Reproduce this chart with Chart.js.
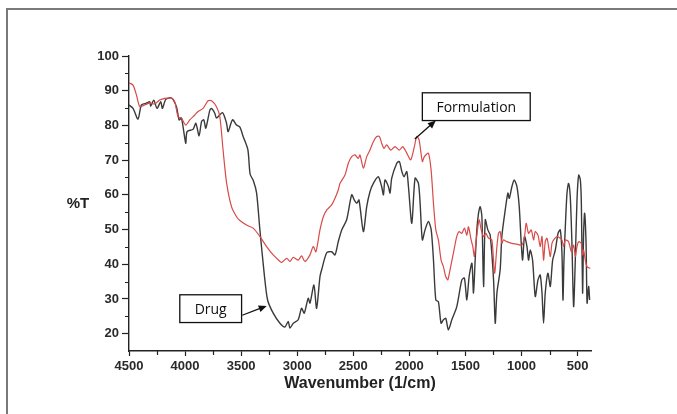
<!DOCTYPE html>
<html>
<head>
<meta charset="utf-8">
<script src="https://cdn.jsdelivr.net/npm/chart.js@4.4.1/dist/chart.umd.min.js"></script>
<style>
  html, body { margin: 0; padding: 0; background: #fff; }
  #wrap { position: relative; width: 677px; height: 414px; }
</style>
</head>
<body>
<div id="wrap"><canvas id="ftir" width="677" height="414"></canvas></div>
<script>
// spectra (wavenumber in 1/cm, transmittance in %)
const drugWn = [4500, 4464, 4420, 4389, 4345, 4315, 4306, 4279, 4250, 4217, 4202, 4172, 4121, 4077, 4053, 4032, 3994, 3982, 3928, 3904,
  3875, 3853, 3833, 3815, 3779, 3764, 3735, 3720, 3666, 3630, 3616, 3577, 3541, 3511, 3482, 3440, 3420, 3390, 3362, 3333,
  3295, 3264, 3214, 3154, 3110, 3080, 3065, 3035, 2991, 2961, 2937, 2902, 2886, 2851, 2827, 2797, 2782, 2737, 2693, 2663,
  2634, 2603, 2559, 2514, 2491, 2469, 2449, 2410, 2380, 2351, 2321, 2277, 2247, 2231, 2217, 2187, 2172, 2157, 2112, 2089,
  2067, 2047, 2023, 2008, 1978, 1949, 1919, 1904, 1884, 1860, 1830, 1805, 1785, 1764, 1741, 1717, 1696, 1675, 1652, 1621,
  1577, 1532, 1509, 1487, 1467, 1442, 1428, 1413, 1398, 1383, 1368, 1353, 1338, 1323, 1300, 1279, 1249, 1234, 1219, 1190,
  1175, 1145, 1121, 1109, 1085, 1065, 1041, 1020, 1002, 990, 973, 951, 937, 922, 901, 877, 853, 833, 817, 803,
  788, 764, 743, 722, 698, 674, 654, 639, 630, 621, 609, 594, 580, 565, 550, 535, 520, 505, 490, 475,
  466, 455, 446, 437, 424, 415, 401, 392];
const drugT = [85.9, 84.9, 81.8, 85.9, 86.4, 86.8, 85.6, 87.3, 84.9, 86.8, 84.9, 87.5, 87.9, 85.4, 81.6, 82.1, 74.9, 78.2, 78.9, 80.6,
  77.0, 81.1, 81.6, 79.2, 84.4, 84.9, 83.5, 82.1, 83.7, 80.6, 78.2, 81.6, 80.1, 79.5, 76.8, 73.0, 66.0, 64.0, 60.5, 50.0,
  37.5, 29.7, 25.9, 23.0, 21.9, 23.5, 21.6, 23.0, 24.0, 27.3, 25.9, 30.2, 28.8, 34.0, 27.3, 36.4, 38.4, 43.3, 43.6, 42.7,
  46.5, 49.9, 52.8, 60.0, 58.5, 57.6, 58.5, 49.4, 56.6, 60.9, 63.3, 65.2, 62.4, 60.0, 64.3, 62.4, 60.5, 64.8, 69.1, 69.6,
  66.7, 65.2, 66.7, 62.4, 51.8, 64.8, 63.3, 57.6, 47.0, 49.9, 52.3, 49.9, 41.3, 29.7, 29.2, 23.0, 24.0, 24.4, 21.1, 24.0,
  27.8, 35.5, 36.0, 29.7, 36.4, 40.3, 31.7, 41.2, 49.9, 54.7, 56.6, 53.7, 33.6, 52.8, 49.9, 48.4, 35.5, 23.0, 31.7, 38.4,
  48.0, 55.6, 60.5, 59.0, 62.4, 64.3, 62.4, 56.6, 46.0, 41.2, 48.0, 45.1, 41.2, 44.1, 41.2, 30.7, 35.5, 36.9, 31.7, 23.0,
  31.7, 37.4, 33.6, 41.2, 44.1, 48.9, 49.9, 43.2, 29.7, 41.2, 50.8, 60.5, 63.3, 59.5, 46.0, 27.8, 41.2, 58.5, 65.7, 64.3,
  57.6, 31.7, 48.9, 54.7, 46.0, 28.8, 33.6, 29.7];

const formWn = [4500, 4464, 4434, 4404, 4360, 4315, 4270, 4226, 4181, 4121, 4092, 4062, 4032, 3994, 3958, 3913, 3884, 3839, 3795, 3764,
  3720, 3690, 3661, 3630, 3586, 3541, 3511, 3452, 3393, 3333, 3273, 3214, 3154, 3140, 3094, 3065, 3035, 2991, 2961, 2931,
  2886, 2857, 2833, 2797, 2767, 2737, 2693, 2663, 2634, 2618, 2574, 2544, 2514, 2485, 2455, 2440, 2410, 2380, 2351, 2321,
  2291, 2267, 2247, 2226, 2202, 2166, 2128, 2089, 2059, 2023, 1987, 1955, 1934, 1913, 1884, 1866, 1830, 1806, 1785, 1764,
  1741, 1717, 1696, 1675, 1657, 1637, 1607, 1577, 1556, 1532, 1509, 1487, 1473, 1449, 1434, 1420, 1407, 1389, 1377, 1359,
  1338, 1317, 1294, 1264, 1240, 1219, 1205, 1190, 1175, 1161, 1131, 1086, 1041, 996, 973, 958, 937, 913, 892, 877,
  853, 833, 817, 803, 788, 773, 758, 743, 728, 713, 683, 654, 639, 624, 609, 580, 555, 535, 520, 505,
  490, 466, 455, 446, 431, 416, 386];
const formT = [92.3, 91.6, 88.8, 85.4, 85.9, 86.4, 86.2, 87.3, 87.8, 87.9, 86.8, 82.5, 82.1, 80.1, 81.6, 83.0, 84.0, 84.9, 87.1, 87.1,
  85.4, 82.5, 72.9, 63.5, 56.6, 53.7, 52.6, 51.3, 50.4, 48.0, 45.1, 42.7, 40.8, 40.5, 41.7, 40.8, 42.0, 41.2, 42.4, 40.8,
  42.7, 45.1, 43.6, 49.9, 53.7, 55.6, 57.1, 59.0, 61.4, 63.3, 65.7, 69.1, 71.0, 71.5, 70.5, 71.5, 67.7, 71.0, 72.9, 75.3,
  76.8, 76.8, 74.9, 73.4, 74.4, 72.9, 73.9, 72.9, 73.9, 72.0, 70.1, 73.9, 76.8, 75.8, 69.6, 71.0, 72.0, 67.2, 57.6, 49.9,
  47.0, 41.2, 39.3, 36.4, 35.5, 38.4, 43.2, 48.0, 49.4, 48.9, 50.4, 48.4, 50.8, 47.0, 45.1, 42.2, 46.0, 50.8, 52.8, 49.9,
  48.0, 48.9, 47.5, 47.0, 37.4, 45.1, 48.9, 49.4, 46.0, 47.0, 46.5, 46.0, 45.8, 45.5, 48.0, 51.8, 48.9, 49.9, 47.0, 49.4,
  48.4, 45.1, 48.0, 41.2, 46.5, 47.5, 45.1, 42.2, 46.0, 47.0, 48.0, 47.5, 47.0, 45.1, 47.0, 46.5, 43.6, 45.5, 42.2, 45.1,
  46.5, 46.0, 42.7, 44.1, 41.2, 39.3, 38.8];

const xTicks = [4500, 4000, 3500, 3000, 2500, 2000, 1500, 1000, 500];
const xMinorTicks = [4250, 3750, 3250, 2750, 2250, 1750, 1250, 750];
const yTicks = [20, 30, 40, 50, 60, 70, 80, 90, 100];
const yMinorTicks = [25, 35, 45, 55, 65, 75, 85, 95];

// callouts, placed in data units (wavenumber, %T)
const callouts = [
  { text: "Formulation", box: [1884, 922, 89.4, 81.4], from: [1951, 76.1], to: [1764, 81.4] },
  { text: "Drug", box: [4047, 3496, 31.2, 23.2], from: [3490, 25.3], to: [3272, 28.0] }
];

const toPoints = (wn, t) => wn.map((w, i) => ({ x: w, y: t[i] }));

const tickFont = { family: "'Liberation Sans', Arial, sans-serif", size: 13, weight: "bold" };
const axisColor = "#222";

const decorPlugin = {
  id: "decor",
  afterDraw(chart) {
    const ctx = chart.ctx;
    const xs = chart.scales.x;
    const ys = chart.scales.y;
    const area = chart.chartArea;
    ctx.save();

    // outer frame (only left and top show in the crop)
    ctx.strokeStyle = "#7a7a7a";
    ctx.lineWidth = 2;
    ctx.beginPath();
    ctx.moveTo(7, 414);
    ctx.lineTo(7, 9);
    ctx.lineTo(677, 9);
    ctx.stroke();

    // minor ticks
    ctx.strokeStyle = axisColor;
    ctx.lineWidth = 1.2;
    ctx.beginPath();
    xMinorTicks.forEach((v) => {
      const px = Math.round(xs.getPixelForValue(v)) + 0.5;
      ctx.moveTo(px, area.bottom);
      ctx.lineTo(px, area.bottom + 4);
    });
    yMinorTicks.forEach((v) => {
      const py = Math.round(ys.getPixelForValue(v)) + 0.5;
      ctx.moveTo(area.left, py);
      ctx.lineTo(area.left - 4, py);
    });
    ctx.stroke();

    // horizontal y label
    ctx.fillStyle = "#222";
    ctx.font = "bold 15px 'Liberation Sans', Arial, sans-serif";
    ctx.textAlign = "center";
    ctx.textBaseline = "middle";
    ctx.fillText("%T", 78, ys.getPixelForValue(57.5));

    // callout boxes with arrows
    ctx.font = "14px 'Open Sans', sans-serif";
    callouts.forEach((c) => {
      const x1 = xs.getPixelForValue(c.box[0]);
      const x2 = xs.getPixelForValue(c.box[1]);
      const y1 = ys.getPixelForValue(c.box[2]);
      const y2 = ys.getPixelForValue(c.box[3]);
      ctx.fillStyle = "#fff";
      ctx.fillRect(x1, y1, x2 - x1, y2 - y1);
      ctx.strokeStyle = "#111";
      ctx.lineWidth = 1.3;
      ctx.strokeRect(x1, y1, x2 - x1, y2 - y1);
      ctx.fillStyle = "#111";
      ctx.fillText(c.text, (x1 + x2) / 2, (y1 + y2) / 2 + 1);

      const ax = xs.getPixelForValue(c.from[0]);
      const ay = ys.getPixelForValue(c.from[1]);
      const bx = xs.getPixelForValue(c.to[0]);
      const by = ys.getPixelForValue(c.to[1]);
      const ang = Math.atan2(by - ay, bx - ax);
      ctx.beginPath();
      ctx.moveTo(ax, ay);
      ctx.lineTo(bx - 5 * Math.cos(ang), by - 5 * Math.sin(ang));
      ctx.stroke();
      ctx.beginPath();
      ctx.moveTo(bx, by);
      ctx.lineTo(bx - 8 * Math.cos(ang) + 3.5 * Math.sin(ang), by - 8 * Math.sin(ang) - 3.5 * Math.cos(ang));
      ctx.lineTo(bx - 8 * Math.cos(ang) - 3.5 * Math.sin(ang), by - 8 * Math.sin(ang) + 3.5 * Math.cos(ang));
      ctx.closePath();
      ctx.fill();
    });
    ctx.restore();
  }
};

new Chart(document.getElementById("ftir"), {
  type: "line",
  data: {
    datasets: [
      {
        label: "Formulation",
        data: toPoints(formWn, formT),
        borderColor: "#d94a48",
        borderWidth: 1.2,
        pointRadius: 0,
        tension: 0.25,
        fill: false
      },
      {
        label: "Drug",
        data: toPoints(drugWn, drugT),
        borderColor: "#3a3a3a",
        borderWidth: 1.4,
        pointRadius: 0,
        tension: 0.25,
        fill: false
      }
    ]
  },
  options: {
    responsive: false,
    animation: false,
    layout: { padding: { top: 56, right: 86, left: 0, bottom: 0 } },
    plugins: {
      legend: { display: false },
      tooltip: { enabled: false }
    },
    scales: {
      x: {
        type: "linear",
        reverse: true,
        min: 380,
        max: 4500,
        afterBuildTicks: (scale) => { scale.ticks = xTicks.map((v) => ({ value: v })); },
        afterFit: (scale) => { scale.height = 63; },
        grid: { drawOnChartArea: false, drawTicks: true, tickLength: 5, color: axisColor, tickWidth: 1.2 },
        border: { display: true, color: axisColor, width: 1.4 },
        ticks: { font: tickFont, color: "#2a2a2a", padding: 3, maxRotation: 0, callback: (v) => String(v) },
        title: {
          display: true,
          text: "Wavenumber (1/cm)",
          color: "#222",
          font: { family: "'Liberation Sans', Arial, sans-serif", size: 16, weight: "bold" },
          padding: { top: 0, bottom: 21 }
        }
      },
      y: {
        min: 15,
        max: 100,
        afterBuildTicks: (scale) => { scale.ticks = yTicks.map((v) => ({ value: v })); },
        afterFit: (scale) => { scale.width = 129; },
        grid: { drawOnChartArea: false, drawTicks: true, tickLength: 7, color: axisColor, tickWidth: 1.2 },
        border: { display: true, color: axisColor, width: 1.4 },
        ticks: { font: tickFont, color: "#2a2a2a", padding: 3, callback: (v) => String(v) }
      }
    }
  },
  plugins: [decorPlugin]
});
</script>
</body>
</html>
